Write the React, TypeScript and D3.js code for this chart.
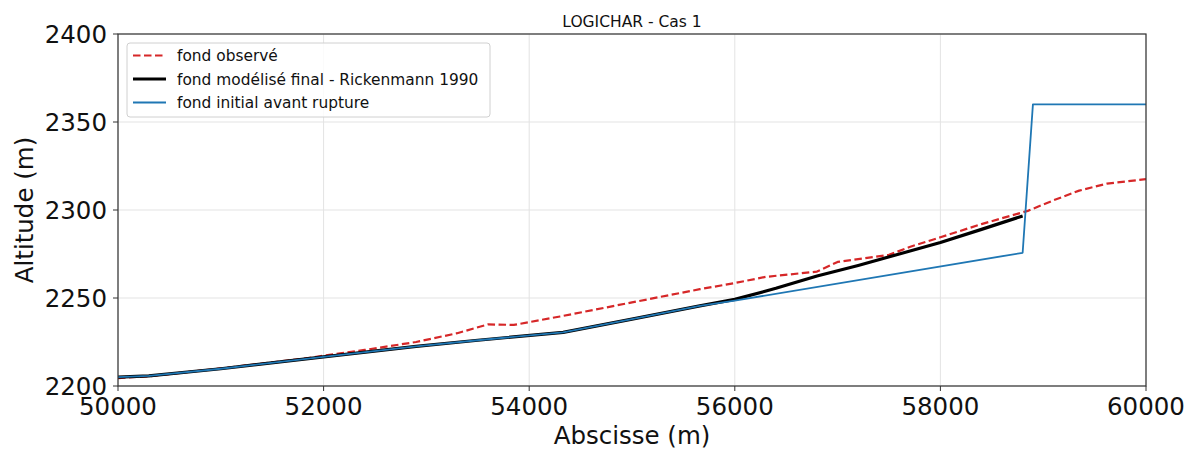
import React from "react";
import * as d3 from "d3";

const xTicks = [50000, 52000, 54000, 56000, 58000, 60000];
const yTicks = [2200, 2250, 2300, 2350, 2400];

const obsX = [50000, 50300, 51000, 51800, 52000, 52400, 52900, 53300, 53600, 53850, 54300, 55000, 55660, 56000, 56300, 56800, 57000, 57500, 57700, 58000, 58400, 58850, 59100, 59350, 59620, 60000];
const obsY = [2204.5, 2205.5, 2210, 2215.5, 2217.2, 2220.5, 2225, 2230, 2235, 2234.7, 2239.5, 2247.5, 2255, 2258.5, 2262, 2265, 2270.5, 2274.5, 2279, 2284.5, 2292, 2299.5, 2305.5, 2311, 2315, 2317.5];

const finX = [50000, 50300, 51000, 52000, 52900, 53500, 54330, 55000, 55660, 56000, 56400, 56800, 57200, 57600, 58000, 58400, 58800];
const finY = [2205, 2205.8, 2209.8, 2216.5, 2222.5, 2226, 2230.5, 2238, 2245.5, 2249.2, 2255.5, 2262.5, 2268.5, 2275, 2281.5, 2289, 2296.6];

const initX = [50000, 50300, 51000, 52000, 52900, 53500, 54330, 55000, 55660, 56000, 58800, 58900, 60000];
const initY = [2205, 2205.8, 2209.8, 2216.5, 2222.5, 2226, 2230.5, 2238, 2245.5, 2248.5, 2275.7, 2360, 2360];

const legendLabels = ["fond observé", "fond modélisé final - Rickenmann 1990", "fond initial avant rupture"];
const title = "LOGICHAR - Cas 1";
const xLabel = "Abscisse (m)";
const yLabel = "Altitude (m)";

const W = 1196, H = 450;
const L = 118, R = 1146, T = 34, B = 386;
const FONT = "DejaVu Sans, sans-serif";

export default function App() {
  const x = d3.scaleLinear().domain([50000, 60000]).range([L, R]);
  const y = d3.scaleLinear().domain([2200, 2400]).range([B, T]);
  const mk = (xs: number[], ys: number[]) =>
    d3.line<number>().x((_, i) => x(xs[i])).y((_, i) => y(ys[i]))(xs) || "";

  const red = "#d62728", blue = "#1f77b4";
  const legY = [55.5, 79, 102.5];

  return (
    <svg width={W} height={H} style={{ position: "absolute", left: 0, top: 0, background: "#fff" }} fontFamily={FONT}>
      <defs>
        <clipPath id="plot"><rect x={L} y={T} width={R - L} height={B - T} /></clipPath>
      </defs>
      {xTicks.map((t) => (
        <line key={"gx" + t} x1={x(t)} x2={x(t)} y1={T} y2={B} stroke="#e3e3e3" strokeWidth={1} />
      ))}
      {yTicks.map((t) => (
        <line key={"gy" + t} x1={L} x2={R} y1={y(t)} y2={y(t)} stroke="#e3e3e3" strokeWidth={1} />
      ))}
      <g clipPath="url(#plot)" fill="none" strokeLinejoin="round">
        <path d={mk(obsX, obsY)} stroke={red} strokeWidth={2.2} strokeDasharray="7.5,3.5" />
        <path d={mk(finX, finY)} stroke="#000" strokeWidth={3.2} />
        <path d={mk(initX, initY)} stroke={blue} strokeWidth={1.8} />
      </g>
      <rect x={L} y={T} width={R - L} height={B - T} fill="none" stroke="#333" strokeWidth={1.2} />
      {xTicks.map((t) => (
        <g key={"tx" + t}>
          <line x1={x(t)} x2={x(t)} y1={B} y2={B + 5} stroke="#333" strokeWidth={1} />
          <text x={x(t)} y={415} textAnchor="middle" fontSize={24.5} fill="#111">{t}</text>
        </g>
      ))}
      {yTicks.map((t) => (
        <g key={"ty" + t}>
          <line x1={L - 5} x2={L} y1={y(t)} y2={y(t)} stroke="#333" strokeWidth={1} />
          <text x={107} y={y(t)} dy="0.36em" textAnchor="end" fontSize={24.5} fill="#111">{t}</text>
        </g>
      ))}
      <text x={(L + R) / 2} y={26.5} textAnchor="middle" fontSize={15.5} fill="#111">{title}</text>
      <text x={(L + R) / 2} y={444} textAnchor="middle" fontSize={24.5} fill="#111">{xLabel}</text>
      <text transform={`translate(33,${(T + B) / 2}) rotate(-90)`} textAnchor="middle" fontSize={24.5} fill="#111">{yLabel}</text>
      <rect x={127} y={43} width={363} height={74} rx={3} fill="#fff" fillOpacity={0.85} stroke="#d0d0d0" strokeWidth={1} />
      <line x1={133} x2={166} y1={legY[0]} y2={legY[0]} stroke={red} strokeWidth={2.2} strokeDasharray="7.5,3.5" />
      <line x1={133} x2={166} y1={legY[1]} y2={legY[1]} stroke="#000" strokeWidth={3.2} />
      <line x1={133} x2={166} y1={legY[2]} y2={legY[2]} stroke={blue} strokeWidth={1.8} />
      {legendLabels.map((s, i) => (
        <text key={s} x={177} y={legY[i]} dy="0.36em" fontSize={15.4} fill="#111">{s}</text>
      ))}
    </svg>
  );
}
